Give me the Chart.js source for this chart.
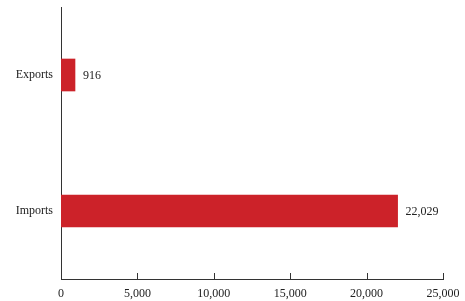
<!DOCTYPE html>
<html>
<head>
<meta charset="utf-8">
<script src="https://cdn.jsdelivr.net/npm/chart.js@4/dist/chart.umd.min.js"></script>
<style>
  html, body { margin: 0; padding: 0; background: #fff; }
  #wrap { width: 465px; height: 301px; }
</style>
</head>
<body>
<div id="wrap"><canvas id="chart"></canvas></div>
<script>
// données
const categories = ['Exports', 'Imports'];
const values = [916, 22029];
const xTicks = [0, 5000, 10000, 15000, 20000, 25000];

const fmt = n => n.toLocaleString('en-US');

// étiquettes de valeur + petites graduations vers l'intérieur
const annotate = {
    id: 'annotate',
    afterDatasetsDraw(chart) {
        const ctx = chart.ctx;
        const meta = chart.getDatasetMeta(0);
        ctx.save();
        ctx.fillStyle = '#222';
        ctx.font = '12px "Liberation Serif", serif';
        ctx.textBaseline = 'middle';
        ctx.textAlign = 'left';
        meta.data.forEach((bar, i) => {
            ctx.fillText(fmt(values[i]), bar.x + 8, bar.y + 1);
        });
        const xs = chart.scales.x;
        ctx.strokeStyle = '#333';
        ctx.lineWidth = 1;
        xTicks.forEach(v => {
            const px = Math.round(xs.getPixelForValue(v)) + 0.5;
            if (v === 0) return;
            ctx.beginPath();
            ctx.moveTo(px, xs.top);
            ctx.lineTo(px, xs.top - 6);
            ctx.stroke();
        });
        ctx.restore();
    }
};

new Chart(document.getElementById('chart'), {
    type: 'bar',
    data: {
        labels: categories,
        datasets: [{
            data: values,
            backgroundColor: '#cc2229',
            barThickness: 32
        }]
    },
    options: {
        indexAxis: 'y',
        responsive: true,
        maintainAspectRatio: false,
        animation: false,
        layout: { padding: { top: 7, right: 22, left: 0, bottom: 0 } },
        plugins: { legend: { display: false }, tooltip: { enabled: false } },
        scales: {
            x: {
                min: 0,
                max: 25000,
                afterBuildTicks: s => { s.ticks = xTicks.map(v => ({ value: v })); },
                afterFit: s => { s.height = 22; s.paddingLeft = 0; s.paddingRight = 0; },
                grid: { display: false, tickLength: 0 },
                border: { display: true, color: '#333', width: 1 },
                ticks: {
                    color: '#222',
                    padding: 8,
                    maxRotation: 0,
                    font: { family: '"Liberation Serif", serif', size: 12 },
                    callback: v => fmt(v)
                }
            },
            y: {
                afterFit: s => { s.width = 61; s.paddingTop = 0; s.paddingBottom = 0; },
                grid: { display: false, tickLength: 0 },
                border: { display: true, color: '#333', width: 1 },
                ticks: {
                    color: '#222',
                    padding: 8,
                    font: { family: '"Liberation Serif", serif', size: 12 }
                }
            }
        }
    },
    plugins: [annotate]
});
</script>
</body>
</html>
